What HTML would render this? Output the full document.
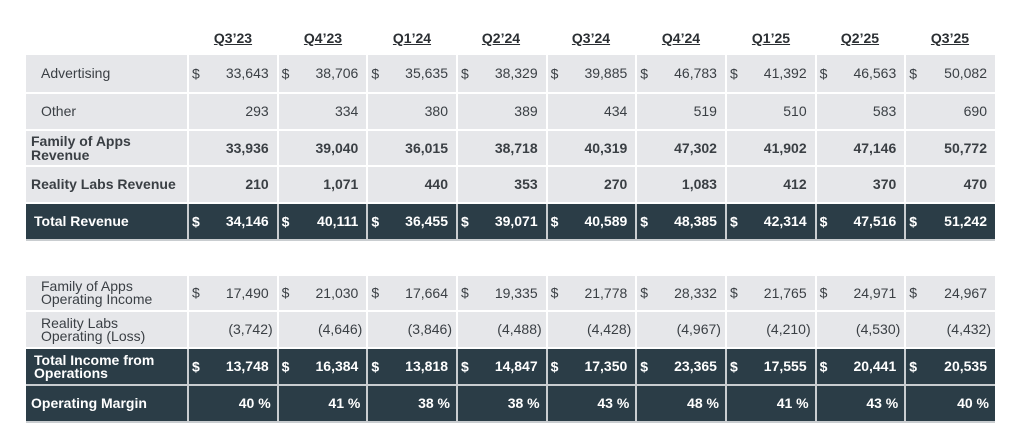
<!DOCTYPE html>
<html><head><meta charset="utf-8"><style>
body{margin:0;width:1024px;height:439px;background:#fff;position:relative;font-family:"Liberation Sans",sans-serif;color:#3a3f44;overflow:hidden}
.h{position:absolute;top:30px;font-weight:bold;font-size:14px;text-decoration:underline;width:90px;text-align:center;color:#2b2f33}
table{position:absolute;left:26px;width:969px;border-collapse:collapse;table-layout:fixed;font-size:14px}
td{padding:0;border:2px solid #fff;background:#e6e7ea;position:relative;text-align:right;padding-right:8px;line-height:15px}
td:first-child{text-align:left;border-left:none}
td:last-child{border-right:none}
tr.d td{background:#2b3d47;color:#fff;font-weight:bold;border-color:#c9cdd0}
tr.b td{font-weight:bold}
.s{position:absolute;left:3px;top:50%;transform:translateY(-50%)}
.t1{top:53px;border-top:2px solid #b5b8bc}
.t2{top:274px;border-top:2px solid #b5b8bc}
</style></head><body>
<div class="h" style="left:188px">Q3’23</div>
<div class="h" style="left:278px">Q4’23</div>
<div class="h" style="left:367px">Q1’24</div>
<div class="h" style="left:456px">Q2’24</div>
<div class="h" style="left:546px">Q3’24</div>
<div class="h" style="left:636px">Q4’24</div>
<div class="h" style="left:726px">Q1’25</div>
<div class="h" style="left:815px">Q2’25</div>
<div class="h" style="left:905px">Q3’25</div>

<table class="t1">
<colgroup><col style="width:162px"><col span="9" style="width:89.67px"></colgroup>
<tr style="height:39px"><td style="padding-left:15px">Advertising</td><td><span class="s">$</span>33,643</td><td><span class="s">$</span>38,706</td><td><span class="s">$</span>35,635</td><td><span class="s">$</span>38,329</td><td><span class="s">$</span>39,885</td><td><span class="s">$</span>46,783</td><td><span class="s">$</span>41,392</td><td><span class="s">$</span>46,563</td><td><span class="s">$</span>50,082</td></tr>
<tr style="height:37px"><td style="padding-left:15px">Other</td><td>293</td><td>334</td><td>380</td><td>389</td><td>434</td><td>519</td><td>510</td><td>583</td><td>690</td></tr>
<tr class="b" style="height:36px"><td style="padding-left:5px;line-height:14px">Family of Apps<br>Revenue</td><td>33,936</td><td>39,040</td><td>36,015</td><td>38,718</td><td>40,319</td><td>47,302</td><td>41,902</td><td>47,146</td><td>50,772</td></tr>
<tr class="b" style="height:37px"><td style="padding-left:5px">Reality Labs Revenue</td><td>210</td><td>1,071</td><td>440</td><td>353</td><td>270</td><td>1,083</td><td>412</td><td>370</td><td>470</td></tr>
<tr class="d" style="height:37px"><td style="padding-left:8px">Total Revenue</td><td><span class="s">$</span>34,146</td><td><span class="s">$</span>40,111</td><td><span class="s">$</span>36,455</td><td><span class="s">$</span>39,071</td><td><span class="s">$</span>40,589</td><td><span class="s">$</span>48,385</td><td><span class="s">$</span>42,314</td><td><span class="s">$</span>47,516</td><td><span class="s">$</span>51,242</td></tr>
</table>

<table class="t2">
<colgroup><col style="width:162px"><col span="9" style="width:89.67px"></colgroup>
<tr style="height:36px"><td style="padding-left:15px;line-height:13px">Family of Apps<br>Operating Income</td><td><span class="s">$</span>17,490</td><td><span class="s">$</span>21,030</td><td><span class="s">$</span>17,664</td><td><span class="s">$</span>19,335</td><td><span class="s">$</span>21,778</td><td><span class="s">$</span>28,332</td><td><span class="s">$</span>21,765</td><td><span class="s">$</span>24,971</td><td><span class="s">$</span>24,967</td></tr>
<tr style="height:37px"><td style="padding-left:15px;line-height:13px">Reality Labs<br>Operating (Loss)</td><td style="padding-right:4px">(3,742)</td><td style="padding-right:4px">(4,646)</td><td style="padding-right:4px">(3,846)</td><td style="padding-right:4px">(4,488)</td><td style="padding-right:4px">(4,428)</td><td style="padding-right:4px">(4,967)</td><td style="padding-right:4px">(4,210)</td><td style="padding-right:4px">(4,530)</td><td style="padding-right:4px">(4,432)</td></tr>
<tr class="d" style="height:37px"><td style="padding-left:8px;line-height:13px">Total Income from<br>Operations</td><td><span class="s">$</span>13,748</td><td><span class="s">$</span>16,384</td><td><span class="s">$</span>13,818</td><td><span class="s">$</span>14,847</td><td><span class="s">$</span>17,350</td><td><span class="s">$</span>23,365</td><td><span class="s">$</span>17,555</td><td><span class="s">$</span>20,441</td><td><span class="s">$</span>20,535</td></tr>
<tr class="d" style="height:37px"><td style="padding-left:5px">Operating Margin</td><td style="padding-right:6px">40 %</td><td style="padding-right:6px">41 %</td><td style="padding-right:6px">38 %</td><td style="padding-right:6px">38 %</td><td style="padding-right:6px">43 %</td><td style="padding-right:6px">48 %</td><td style="padding-right:6px">41 %</td><td style="padding-right:6px">43 %</td><td style="padding-right:6px">40 %</td></tr>
</table>
</body></html>
